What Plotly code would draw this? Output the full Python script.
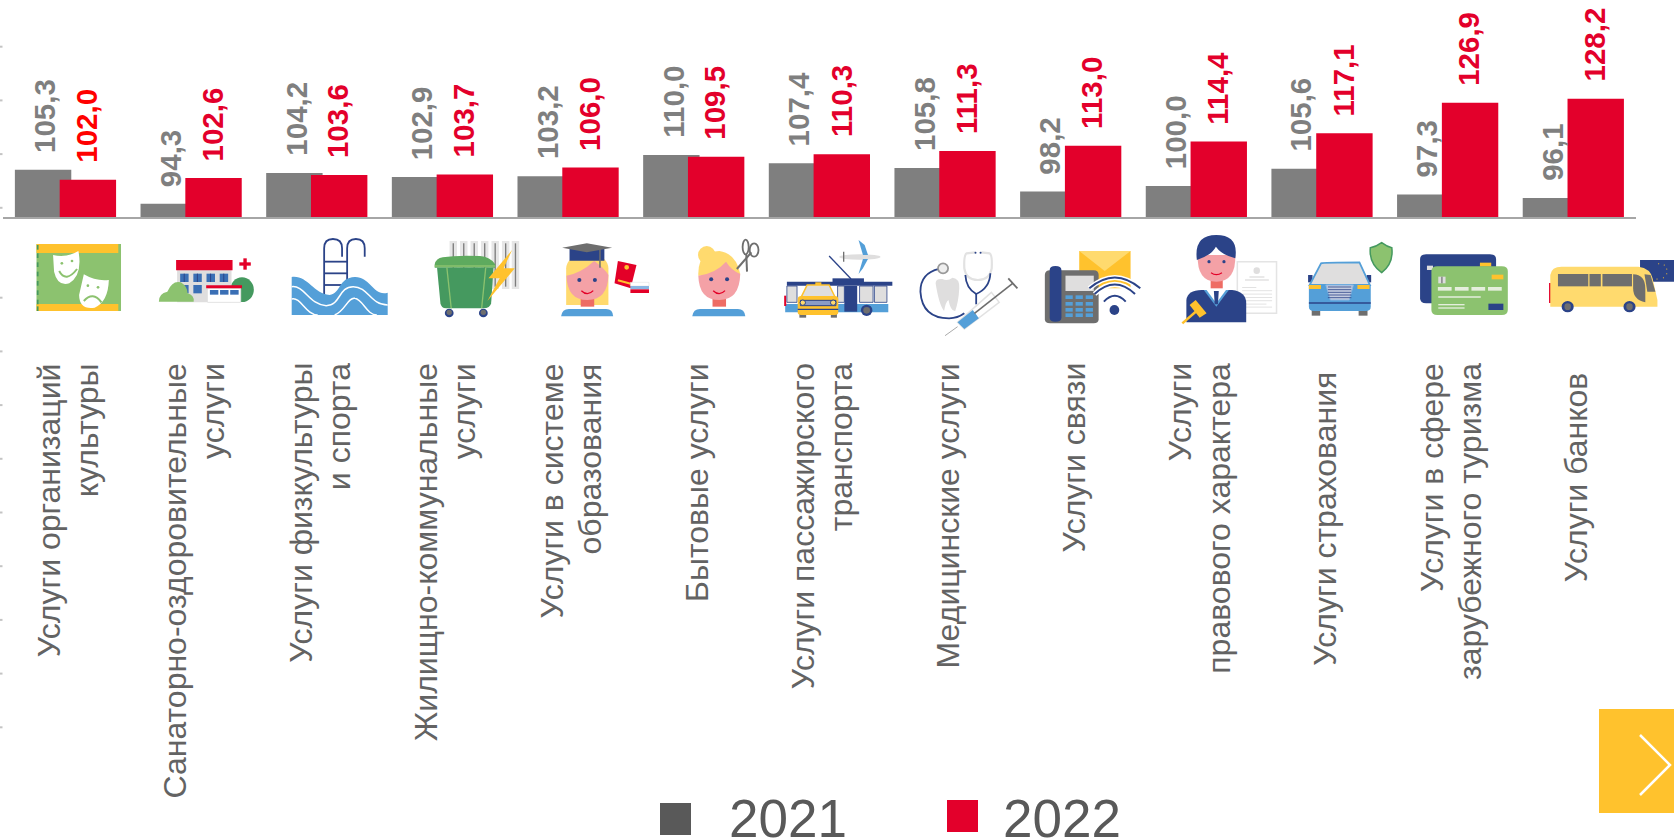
import plotly.graph_objects as go

W, H = 1674, 838

categories = ["Услуги организаций<br>культуры", "Санаторно-оздоровительные<br>услуги",
              "Услуги физкультуры<br>и спорта", "Жилищно-коммунальные<br>услуги",
              "Услуги в системе<br>образования", "Бытовые услуги",
              "Услуги пассажирского<br>транспорта", "Медицинские услуги", "Услуги связи",
              "Услуги<br>правового характера", "Услуги страхования",
              "Услуги в сфере<br>зарубежного туризма", "Услуги банков"]
values_2021 = [105.3, 94.3, 104.2, 102.9, 103.2, 110.0, 107.4, 105.8, 98.2, 100.0, 105.6, 97.3, 96.1]
values_2022 = [102.0, 102.6, 103.6, 103.7, 106.0, 109.5, 110.3, 111.3, 113.0, 114.4, 117.1, 126.9, 128.2]
series_names = ["2021", "2022"]

GRAY, RED, LABEL = "#7f7f7f", "#e3002b", "#636363"
BLUE, NAVY, GREEN, DGREEN, ORANGE, YEL = "#549fd8", "#2b4388", "#8cc26f", "#45995f", "#ffc22d", "#ffda6e"
LGRAY, DGRAY, PINK, NECK = "#dfdede", "#6e6e6e", "#f4a1a6", "#ee6c64"

AX_L, AX_R, BASE_PX = 2.5, 1636.0, 217.0
UNIT = (AX_R - AX_L) / 13
BAR_W = 56.4 / UNIT
STEP = 44.8 / UNIT
START = -0.4015
Y_MIN, PX_PER = 90.0, 3.095
Y_MAX = Y_MIN + BASE_PX / PX_PER

shapes, anns = [], []
fx = lambda p: p / W
fy = lambda p: 1 - p / H


def zmap(off, s):
    return lambda X, Y: (off + X / s, 225 + Y / 3)


Z5, Z6 = zmap(0, 1568 / 530), zmap(530, 1568 / 530)
Z7 = zmap(1040, 1568 / 634)


def path(z, d, fill=None, line=None, lw=1.0):
    out, buf = [], []
    for t in d.split():
        if t.isalpha():
            out.append(t)
        else:
            buf.append(float(t))
            if len(buf) == 2:
                x, y = z(*buf)
                out.append(f"{fx(x):.5f},{fy(y):.5f}")
                buf = []
    shapes.append(dict(type="path", xref="paper", yref="paper", path=" ".join(out),
                       fillcolor=fill if fill else "rgba(0,0,0,0)",
                       line=dict(color=line if line else "rgba(0,0,0,0)", width=lw if line else 0)))


def rect(z, x0, y0, x1, y1, fill, line=None, lw=1.0):
    path(z, f"M {x0} {y0} L {x1} {y0} L {x1} {y1} L {x0} {y1} Z", fill, line, lw)


def ell(z, cx, cy, rx, ry, fill, line=None, lw=1.0):
    a, b = z(cx - rx, cy - ry), z(cx + rx, cy + ry)
    shapes.append(dict(type="circle", xref="paper", yref="paper", x0=fx(a[0]), x1=fx(b[0]),
                       y0=fy(a[1]), y1=fy(b[1]), fillcolor=fill if fill else "rgba(0,0,0,0)",
                       line=dict(color=line if line else "rgba(0,0,0,0)", width=lw if line else 0)))


def seg(z, x0, y0, x1, y1, col, lw=1.5):
    path(z, f"M {x0} {y0} L {x1} {y1}", None, col, lw)


# 1 theatre
rect(Z5, 108, 57, 358, 258, GREEN)
rect(Z5, 108, 57, 350, 84, ORANGE); rect(Z5, 108, 237, 350, 258, ORANGE)
for y in (60, 85, 112, 140, 168, 196, 224, 244):
    rect(Z5, 109, y, 114, y + 14, DGREEN)
path(Z5, "M 157 90 Q 195 100 232 78 Q 245 150 205 175 Q 170 185 160 140 Z", "white")
ell(Z5, 183, 115, 4, 4, GREEN); ell(Z5, 213, 108, 4, 4, GREEN)
path(Z5, "M 175 138 Q 195 175 228 132", None, GREEN, 2)
path(Z5, "M 248 148 Q 285 170 322 165 Q 320 230 280 248 Q 235 255 234 210 Z", "white")
ell(Z5, 260, 182, 4, 4, GREEN); ell(Z5, 290, 187, 4, 4, GREEN)
path(Z5, "M 248 228 Q 275 198 300 232", None, GREEN, 2)
# 2 sanatorium
ell(Z5, 716, 194, 35, 37, DGREEN)
rect(Z5, 524, 135, 685, 232, LGRAY)
rect(Z5, 521, 105, 688, 136, "#e30028")
for x in (533, 572, 611, 650):
    rect(Z5, x, 146, x + 25, 171, "#3a6fb5")
    seg(Z5, x + 12, 146, x + 12, 171, NAVY, 1)
rect(Z5, 572, 180, 597, 205, "#3a6fb5"); rect(Z5, 533, 180, 558, 205, "#3a6fb5")
rect(Z5, 708, 112, 742, 122, "#e30028"); rect(Z5, 720, 100, 730, 134, "#e30028")
path(Z5, "M 470 230 Q 470 205 495 200 Q 510 165 535 172 Q 555 185 555 205 Q 575 210 573 230 Z", GREEN)
rect(Z5, 614, 190, 712, 232, "white", "#e4e4e4", 1)
rect(Z5, 610, 181, 716, 190, "#e30028")
for x in (621, 651, 681):
    rect(Z5, x, 195, x + 25, 209, "#3a6fb5")
# 3 pool
path(Z5, "M 959 210 L 959 70 Q 959 42 985 42 Q 1012 42 1012 70 L 1012 95", None, NAVY, 1.8)
path(Z5, "M 1027 170 L 1027 70 Q 1027 42 1053 42 Q 1079 42 1079 70 L 1079 95", None, NAVY, 1.8)
for y in (110, 145, 180):
    seg(Z5, 959, y, 1027, y, NAVY, 1.8)
path(Z5, "M 863 156 C 910 150 925 205 975 210 C 1010 205 1000 158 1050 156 C 1095 155 1105 215 1147 203 L 1147 270 L 863 270 Z", BLUE)
path(Z5, "M 863 185 C 900 180 915 240 965 242 C 1010 240 1000 185 1045 185 C 1090 185 1095 240 1147 240", None, "white", 1.5)
path(Z5, "M 863 222 C 890 215 905 270 940 270", None, "white", 1.5)
path(Z5, "M 990 270 C 1020 260 1030 215 1050 220 C 1075 225 1085 270 1115 270", None, "white", 1.5)
# 4 bin + radiator
for x in (1330, 1361, 1392, 1423, 1454, 1485, 1514):
    rect(Z5, x, 48, x + 22, 192, "#e6e6e6")
    rect(Z5, x + 9, 55, x + 13, 185, "#7d7d7d")
path(Z5, "M 1286 118 Q 1290 100 1310 97 Q 1350 90 1420 93 Q 1450 95 1465 118 L 1465 128 L 1286 128 Z", "#5eaa5e")
path(Z5, "M 1293 128 L 1460 128 L 1453 235 Q 1450 250 1430 250 L 1320 250 Q 1305 250 1303 235 Z", DGREEN)
seg(Z5, 1322, 128, 1335, 250, GREEN, 1.3); seg(Z5, 1437, 128, 1425, 250, GREEN, 1.3)
seg(Z5, 1286, 123, 1465, 123, GREEN, 1.3)
for x in (1329, 1430):
    ell(Z5, x, 264, 13, 13, NAVY); ell(Z5, x, 262, 8, 8, DGRAY)
path(Z5, "M 1515 75 L 1445 160 L 1478 160 L 1442 228 L 1523 130 L 1490 130 Z", ORANGE)
# 5 graduate
path(Z6, "M 107 240 L 107 130 Q 110 90 170 85 Q 230 90 232 130 L 232 240 Z", YEL)
rect(Z6, 150, 215, 190, 245, NECK)
path(Z6, "M 108 152 Q 150 145 190 108 Q 220 130 232 150 Q 230 225 170 225 Q 110 225 108 152 Z", PINK)
rect(Z6, 117, 72, 220, 107, NAVY)
path(Z6, "M 95 68 L 168 55 L 243 68 L 168 82 Z", DGRAY)
seg(Z6, 207, 72, 207, 128, DGRAY, 1.5)
ell(Z6, 146, 165, 6, 6, NAVY); ell(Z6, 192, 165, 6, 6, NAVY)
path(Z6, "M 152 197 Q 170 215 187 197", None, "#e30028", 1.3)
path(Z6, "M 92 274 Q 95 252 115 252 L 225 252 Q 245 252 246 274 Z", BLUE)
path(Z6, "M 260 108 L 315 120 L 298 190 L 250 175 Z", "#e30028")
ell(Z6, 286, 127, 7, 7, ORANGE)
seg(Z6, 260, 166, 298, 176, ORANGE, 2)
rect(Z6, 297, 172, 352, 183, "white", "#dddddd", 0.5); rect(Z6, 297, 183, 352, 193, "#8ab6e3"); rect(Z6, 297, 193, 352, 204, "#e30028")
# 6 hairdresser
ell(Z6, 523, 90, 26, 27, YEL)
path(Z6, "M 498 152 Q 495 80 560 78 Q 610 85 622 147 Z", YEL)
rect(Z6, 540, 215, 580, 245, NECK)
path(Z6, "M 498 152 Q 550 145 580 110 Q 595 135 622 147 Q 620 225 560 225 Q 500 225 498 152 Z", PINK)
ell(Z6, 536, 163, 6, 6, NAVY); ell(Z6, 583, 163, 6, 6, NAVY)
path(Z6, "M 542 197 Q 560 215 577 197", None, "#e30028", 1.3)
path(Z6, "M 480 274 Q 483 252 503 252 L 615 252 Q 635 252 637 274 Z", BLUE)
seg(Z6, 612, 132, 655, 82, DGRAY, 2); seg(Z6, 642, 140, 640, 90, DGRAY, 2)
ell(Z6, 638, 66, 9, 22, None, DGRAY, 1.8); ell(Z6, 663, 75, 13, 20, None, DGRAY, 1.8)
# 7 transport
seg(Z6, 885, 93, 950, 162, NAVY, 1.3)
ell(Z6, 976, 96, 61, 8, LGRAY)
path(Z6, "M 972 45 L 990 60 L 1000 90 L 985 90 Z", BLUE)
path(Z6, "M 985 102 L 1000 102 L 985 130 L 972 147 Z", BLUE)
seg(Z6, 928, 80, 928, 110, DGRAY, 1.3)
rect(Z6, 755, 182, 1060, 262, "white"); rect(Z6, 755, 237, 1060, 262, BLUE)
rect(Z6, 752, 212, 758, 243, "#e30028")
rect(Z6, 895, 160, 988, 175, NAVY); rect(Z6, 760, 170, 1072, 182, NAVY)
rect(Z6, 760, 183, 790, 232, LGRAY, NAVY, 0.8); rect(Z6, 975, 183, 1015, 232, LGRAY, NAVY, 0.8); rect(Z6, 1019, 183, 1056, 232, LGRAY, NAVY, 0.8)
rect(Z6, 910, 183, 930, 232, LGRAY, NAVY, 0.8)
rect(Z6, 930, 183, 968, 260, NAVY)
ell(Z6, 996, 256, 17, 17, NAVY); ell(Z6, 996, 256, 10, 10, DGRAY)
path(Z6, "M 803 215 L 820 180 L 885 180 L 902 215 Z", LGRAY, ORANGE, 1.5)
rect(Z6, 844, 172, 862, 180, ORANGE)
rect(Z6, 797, 266, 817, 278, DGRAY); rect(Z6, 890, 266, 908, 278, DGRAY)
path(Z6, "M 792 222 Q 792 213 803 213 L 902 213 Q 912 213 912 222 L 912 262 Q 912 270 902 270 L 802 270 Q 792 270 792 262 Z", ORANGE)
rect(Z6, 800, 226, 905, 242, "#8a9cc6", NAVY, 1); seg(Z6, 792, 253, 912, 253, NAVY, 1.2)
ell(Z6, 807, 233, 8, 8, YEL, NAVY, 1); ell(Z6, 897, 233, 8, 8, YEL, NAVY, 1)
# 8 medical
path(Z6, "M 1210 132 Q 1155 145 1155 200 Q 1160 280 1240 280 Q 1265 280 1285 265", None, NAVY, 1.8)
ell(Z6, 1222, 130, 15, 15, "#eeeeee", "#999999", 1.8)
path(Z6, "M 1200 175 Q 1200 160 1220 162 Q 1235 170 1250 158 Q 1272 160 1270 190 Q 1268 230 1258 258 Q 1245 260 1238 225 Q 1230 230 1225 258 Q 1210 240 1200 175 Z", LGRAY)
path(Z6, "M 1318 82 L 1292 85 Q 1283 90 1285 130 Q 1290 165 1325 165 Q 1360 165 1366 130 Q 1368 90 1360 85 L 1335 82", None, "#e2e2e2", 2.2)
ell(Z6, 1318, 83, 3, 3, NAVY); ell(Z6, 1333, 83, 3, 3, NAVY)
path(Z6, "M 1288 150 Q 1290 190 1320 207 Q 1360 190 1362 145", None, NAVY, 1.8)
seg(Z6, 1320, 207, 1320, 238, NAVY, 1.8)
path(Z6, "M 1265 292 L 1365 202 L 1388 232 L 1285 312 Z", "white", "#e2e2e2", 1.5)
path(Z6, "M 1265 292 L 1310 255 L 1328 280 L 1285 312 Z", BLUE)
seg(Z6, 1315, 265, 1428, 175, DGRAY, 1.6); seg(Z6, 1415, 160, 1442, 190, DGRAY, 1.8)
seg(Z6, 1265, 305, 1228, 332, "#aaaaaa", 1)
# 9 phone
rect(Z7, 97, 78, 224, 190, ORANGE)
path(Z7, "M 97 78 L 224 78 L 160 138 Z", YEL)
path(Z7, "M 12 150 Q 12 136 25 136 L 133 136 Q 145 136 145 150 L 145 283 Q 145 295 133 295 L 25 295 Q 12 295 12 283 Z", DGRAY)
path(Z7, "M 24 135 Q 24 123 38 123 Q 53 123 53 135 L 53 278 Q 53 290 38 290 Q 24 290 24 278 Z", NAVY)
rect(Z7, 63, 152, 133, 198, LGRAY)
for x in (63, 88, 113):
    for y in (211, 231, 249, 265):
        rect(Z7, x, y, x + 18, y + 11, BLUE)
for d in ("M 122 190 Q 185 125 248 190", "M 135 207 Q 185 150 235 207", "M 158 230 Q 185 195 212 230"):
    path(Z7, d, None, "white", 5); path(Z7, d, None, NAVY, 2)
ell(Z7, 184, 255, 12, 15, NAVY)
# 10 lawyer
rect(Z7, 488, 110, 585, 265, "white", "#e4e4e4", 1.5)
ell(Z7, 536, 137, 8, 10, LGRAY)
rect(Z7, 518, 154, 555, 158, LGRAY); rect(Z7, 507, 163, 566, 167, LGRAY)
for y, x1 in ((186, 535), (196, 574), (206, 574), (216, 574), (226, 574), (236, 560), (245, 574)):
    rect(Z7, 500, y, x1, y + 2.5, "#dddddd")
path(Z7, "M 362 292 L 362 225 Q 365 195 400 195 L 475 195 Q 510 200 510 235 L 510 292 Z", NAVY)
path(Z7, "M 405 195 L 436 245 L 467 195 Z", BLUE)
path(Z7, "M 412 195 L 436 235 L 460 195 Z", "white")
path(Z7, "M 430 198 L 442 198 L 440 238 L 432 238 Z", NAVY)
rect(Z7, 422, 165, 452, 190, NECK)
path(Z7, "M 390 90 L 483 90 Q 485 170 436 170 Q 388 170 390 90 Z", PINK)
path(Z7, "M 388 105 Q 380 30 436 30 Q 492 30 483 100 Q 450 90 435 65 Q 425 90 388 105 Z", NAVY)
ell(Z7, 418, 110, 4, 5, NAVY); ell(Z7, 455, 110, 4, 5, NAVY)
path(Z7, "M 423 143 Q 436 155 450 143", None, "#e30028", 1.2)
seg(Z7, 352, 295, 390, 255, ORANGE, 2.5)
path(Z7, "M 370 240 L 385 225 L 412 265 L 395 278 Z", ORANGE)
# 11 car
path(Z7, "M 845 53 Q 858 65 870 68 Q 875 115 845 143 Q 813 115 817 68 Q 832 65 845 53 Z", GREEN, DGREEN, 1.5)
rect(Z7, 663, 150, 674, 172, NAVY); rect(Z7, 808, 150, 819, 172, NAVY)
path(Z7, "M 667 180 L 695 115 Q 700 112 790 112 L 816 180 Z", LGRAY, BLUE, 1.8)
rect(Z7, 672, 255, 693, 272, DGRAY); rect(Z7, 788, 255, 810, 272, DGRAY)
path(Z7, "M 665 180 L 818 180 L 818 245 Q 818 258 805 258 L 678 258 Q 665 258 665 245 Z", BLUE)
rect(Z7, 665, 180, 695, 192, ORANGE); rect(Z7, 785, 180, 815, 192, ORANGE)
path(Z7, "M 707 180 L 775 180 L 765 225 L 718 225 Z", "#c3cbdf", "#8ab6e3", 1)
for y in (186, 194, 202, 210, 218):
    seg(Z7, 712, y, 770, y, NAVY, 0.8)
seg(Z7, 665, 234, 818, 234, NAVY, 1.5)
# 12 cards
path(Z7, "M 940 102 Q 940 88 955 88 L 1113 88 Q 1128 88 1128 102 L 1128 220 Q 1128 235 1113 235 L 955 235 Q 940 235 940 220 Z", NAVY)
rect(Z7, 1088, 113, 1116, 125, ORANGE)
rect(Z7, 957, 122, 972, 135, LGRAY)
path(Z7, "M 968 138 Q 968 124 983 124 L 1142 124 Q 1157 124 1157 138 L 1157 255 Q 1157 270 1142 270 L 983 270 Q 968 270 968 255 Z", GREEN)
rect(Z7, 1117, 149, 1146, 163, ORANGE)
rect(Z7, 985, 155, 1003, 175, "#dddddd"); seg(Z7, 994, 155, 994, 175, DGRAY, 1.2)
for x in (984, 1026, 1067, 1108):
    rect(Z7, x, 186, x + 34, 197, "#e5eedd")
rect(Z7, 985, 214, 1090, 218, "#e5eedd"); rect(Z7, 985, 237, 1050, 241, "#e5eedd"); rect(Z7, 985, 247, 1050, 251, "#e5eedd")
rect(Z7, 1109, 236, 1146, 255, NAVY)
# 13 bus
rect(Z7, 1484, 105, 1568, 170, NAVY)
for dx, dy in ((0, -24), (14, -20), (20, -8), (20, 6), (12, 18), (-4, 22)):
    ell(Z7, 1530 + dx, 140 + dy, 1.5, 1.5, ORANGE)
rect(Z7, 1259, 174, 1264, 234, "#e30028")
path(Z7, "M 1262 245 L 1262 150 Q 1265 125 1290 125 L 1480 125 Q 1510 130 1515 160 L 1527 225 L 1527 245 Z", YEL)
rect(Z7, 1281, 147, 1356, 184, DGRAY); rect(Z7, 1359, 147, 1387, 184, DGRAY); rect(Z7, 1391, 147, 1464, 184, DGRAY)
path(Z7, "M 1467 148 Q 1497 150 1497 190 L 1497 232 Q 1467 225 1467 190 Z", DGRAY)
path(Z7, "M 1495 148 L 1510 150 L 1522 200 L 1502 200 Z", DGRAY)
for x in (1305, 1458):
    ell(Z7, x, 245, 15, 17, NAVY); ell(Z7, x, 245, 8, 10, DGRAY)

# clipped tick marks at the left edge
edge_marks_px = [46.7, 100.4, 154.1, 207.8, 297.7, 351.4, 405.1, 458.8, 512.5, 566.2, 619.9, 673.6, 727.3]
for p in edge_marks_px:
    shapes.append(dict(type="rect", xref="paper", yref="paper", x0=0, x1=fx(2.5),
                       y0=fy(p + 1), y1=fy(p - 1), fillcolor="#c4c4c4", line=dict(width=0)))

# legend
legend_boxes = [(660, 691, 803, 835, "#595959"), (947, 978, 800, 832, "#e3002b")]
legend_text_x = [727, 1001]
for (x0, x1, y0, y1, c), name, tx in zip(legend_boxes, series_names, legend_text_x):
    shapes.append(dict(type="rect", xref="paper", yref="paper", x0=fx(x0), x1=fx(x1),
                       y0=fy(y1), y1=fy(y0), fillcolor=c, line=dict(width=0)))
    anns.append(dict(xref="paper", yref="paper", x=fx(tx), y=fy(818), xanchor="left", yanchor="middle",
                     text=name, showarrow=False, font=dict(family="Liberation Sans", size=53, color="#595959")))

# next button
shapes.append(dict(type="rect", xref="paper", yref="paper", x0=fx(1599), x1=1, y0=fy(813), y1=fy(709),
                   fillcolor=ORANGE, line=dict(width=0)))
shapes.append(dict(type="path", xref="paper", yref="paper",
                   path=f"M {fx(1640):.5f},{fy(735):.5f} L {fx(1670):.5f},{fy(765):.5f} L {fx(1640):.5f},{fy(795):.5f}",
                   fillcolor="rgba(0,0,0,0)", line=dict(color="white", width=2.5)))

# value labels
for i, (a, b) in enumerate(zip(values_2021, values_2022)):
    for v, shift, col in ((a, -21, GRAY), (b, 21.5, "#ff0000" if i == 0 else RED)):
        anns.append(dict(xref="x", yref="y", x=i, y=v, xshift=shift, yshift=15, xanchor="center",
                         yanchor="bottom", textangle=-90, showarrow=False, text=f"{v:.1f}".replace(".", ","),
                         font=dict(family="Liberation Sans", size=29.5, color=col, weight="bold")))

# category labels: one annotation per wrapped line, ends aligned at the top
label_top_px = [361] * 13
label_top_px[10] = label_top_px[12] = 370
for i, c in enumerate(categories):
    lines = c.split("<br>")
    for j, ln in enumerate(lines):
        shift = 3 + (j - (len(lines) - 1) / 2) * 38
        anns.append(dict(xref="x", yref="paper", x=i, y=fy(label_top_px[i]), xshift=shift, xanchor="center",
                         yanchor="top", textangle=-90, showarrow=False, text=ln,
                         font=dict(family="Liberation Sans", size=32, color=LABEL)))

fig = go.Figure()
for name, vals, col, k in ((series_names[0], values_2021, GRAY, 0), (series_names[1], values_2022, RED, 1)):
    fig.add_trace(go.Bar(name=name, x=list(range(13)), y=vals, width=BAR_W, offset=START + k * STEP,
                         marker=dict(color=col, line=dict(width=0)), showlegend=False,
                         base=0, cliponaxis=True))

fig.update_layout(
    width=W, height=H, margin=dict(l=0, r=0, t=0, b=0), paper_bgcolor="white", plot_bgcolor="white",
    barmode="overlay", showlegend=False, shapes=shapes, annotations=anns,
    font=dict(family="Liberation Sans"),
    xaxis=dict(domain=[fx(AX_L), fx(AX_R)], range=[-0.5, 12.5], showgrid=False, zeroline=False,
               showticklabels=False, ticks="", showline=True, linecolor="#a6a6a6", linewidth=1.5,
               tickmode="array", tickvals=list(range(13))),
    yaxis=dict(domain=[fy(BASE_PX), 1], range=[Y_MIN, Y_MAX], showgrid=False, zeroline=False,
               showticklabels=False, ticks="", showline=False),
)
fig.write_html("out.html", config=dict(displayModeBar=False),
               post_script="document.body.style.margin='0';document.body.style.overflow='hidden';")
